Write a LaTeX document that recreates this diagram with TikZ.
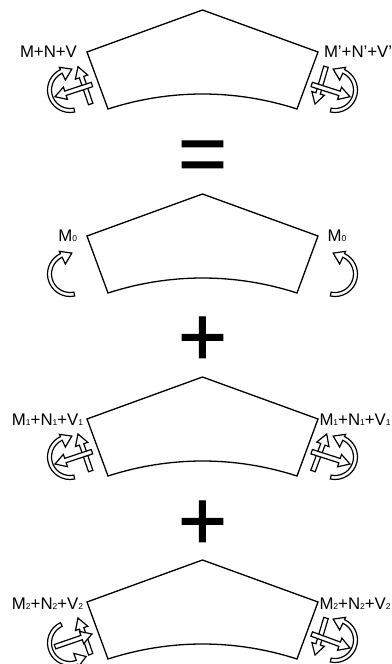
\documentclass[tikz,border=0pt]{standalone}
\usepackage{fontspec}
\setmainfont{Liberation Sans}
\newfontfamily\signfont[FakeBold=1.2]{Liberation Sans}
\usetikzlibrary{calc}
\tikzset{
  edge/.style={draw=black,line width=1.3pt,line join=miter},
  hollow/.style={draw=black,fill=white,line width=1.2pt,line join=miter},
  lab/.style={anchor=base west,inner sep=0pt,outer sep=0pt,font=\fontsize{16.8}{17}\selectfont},
  sign/.style={inner sep=0pt,outer sep=0pt,font=\signfont\fontsize{84}{84}\selectfont}
}
\newcommand{\dg}[1]{{\fontsize{8.5}{10}\selectfont #1}}
% straight hollow arrow: tail, tip (pixel coordinates)
\newcommand{\harrow}[2]{%
  \coordinate (A) at #1; \coordinate (B) at #2;
  \coordinate (H) at ($(B)!11pt!(A)$);
  \draw[hollow] ($(A)!2.3pt!90:(B)$) -- ($(H)!2.3pt!90:(B)$) -- ($(H)!6.5pt!90:(B)$) -- (B)
    -- ($(H)!6.5pt!-90:(B)$) -- ($(H)!2.3pt!-90:(B)$) -- ($(A)!2.3pt!-90:(B)$) -- cycle;}
% curved hollow arrow about a centre, from angle #3 clockwise to 115 degrees on screen
\newcommand{\cwmoment}[3][1]{%
  \begin{scope}[shift={#2},xscale=#1]
    \draw[hollow] (#3:22.5pt) arc[start angle=#3,end angle=115,radius=22.5pt]
      -- (115:25pt) -- (85:21pt) -- (115:11pt) -- (115:18.5pt)
      arc[start angle=115,end angle=#3,radius=18.5pt] -- cycle;
  \end{scope}}
\newcommand{\ccwmoment}[1]{%
  \begin{scope}[shift={#1}]
    \draw[hollow] (115:22.5pt) arc[start angle=115,end angle=290,radius=22.5pt]
      -- (290:25pt) -- (320:21pt) -- (290:11pt) -- (290:18.5pt)
      arc[start angle=290,end angle=115,radius=18.5pt] -- cycle;
  \end{scope}}
\newcommand{\block}[1]{%
  \begin{scope}[yshift=-#1pt]
    \draw[edge] (202.5,-10) -- (318,-52) -- (297,-109)
      .. controls (235,-89) and (170,-89) .. (108,-109) -- (87,-52) -- cycle;
  \end{scope}}
\begin{document}
\begin{tikzpicture}[x=1pt,y=1pt]
\useasboundingbox (0,0) rectangle (391,-664);
\clip (0,0) rectangle (391,-664);
% block 1
\block{0}
\cwmoment{(70,-90)}{282}
\harrow{(90.7,-104)}{(78,-66.7)}
\harrow{(92,-84.5)}{(55,-96.7)}
\cwmoment[-1]{(335,-90)}{282}
\harrow{(326,-66.7)}{(315,-104)}
\harrow{(311.7,-84.5)}{(350,-96.7)}
\node[lab] (l1) at (20,-57.3) {M+N+V};
\node[lab] (r1) at (324,-57) {M'+N'+V'};
% equals
\node[sign] (eq) at (202.5,-161.5) {=};
% block 2
\block{184}
\cwmoment{(70,-274)}{282}
\cwmoment[-1]{(335,-274)}{282}
\node[lab] (l2) at (58.3,-241.7) {M\dg{0}};
\node[lab] (r2) at (327.7,-241.7) {M\dg{0}};
% plus
\node[sign] (p1) at (202.5,-341) {+};
% block 3
\block{367}
\cwmoment{(70,-457)}{282}
\harrow{(90.7,-471)}{(78,-434)}
\harrow{(92,-451.7)}{(55,-464)}
\cwmoment[-1]{(335,-457)}{282}
\harrow{(313,-471)}{(326.7,-434)}
\harrow{(311.7,-451.7)}{(350,-464)}
\node[lab] (l3) at (12,-425) {M\dg{1}+N\dg{1}+V\dg{1}};
\node[lab] (r3) at (319.5,-425) {M\dg{1}+N\dg{1}+V\dg{1}};
% plus
\node[sign] (p2) at (202.5,-525) {+};
% block 4
\block{550}
\ccwmoment{(70,-643)}
\harrow{(90.7,-654.3)}{(78,-618)}
\harrow{(55,-646.7)}{(92,-634)}
\cwmoment[-1]{(335,-640)}{282}
\harrow{(326,-618)}{(315,-655)}
\harrow{(311.7,-634)}{(350,-648)}
\node[lab] (l4) at (12,-609.3) {M\dg{2}+N\dg{2}+V\dg{2}};
\node[lab] (r4) at (319.5,-609.3) {M\dg{2}+N\dg{2}+V\dg{2}};
\end{tikzpicture}
\end{document}
